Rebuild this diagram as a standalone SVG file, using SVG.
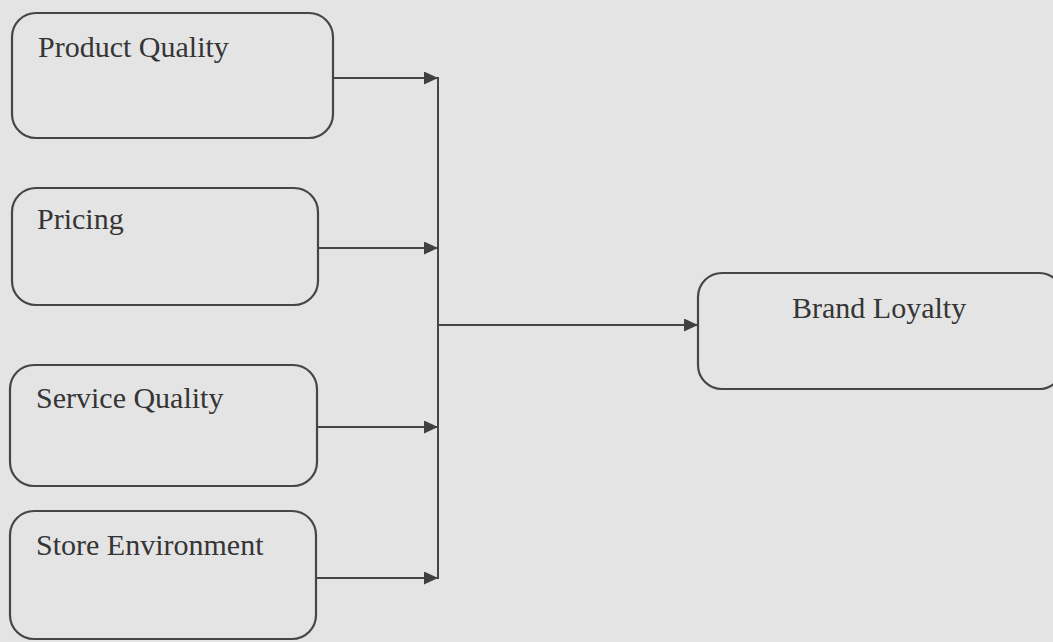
<svg xmlns="http://www.w3.org/2000/svg" width="1053" height="642" viewBox="0 0 1053 642">
<style>
.box{fill:none;stroke:#464646;stroke-width:2.2}
.lbl{font-family:"Liberation Serif","Times New Roman",serif;font-size:30px;fill:#353535}
.con{fill:none;stroke:#464646;stroke-width:2}
</style>
<defs>
<marker id="arr" markerWidth="15" markerHeight="13" refX="14" refY="6.5" orient="auto" markerUnits="userSpaceOnUse">
<path d="M0,0 L14,6.5 L0,13 Z" fill="#404040"/>
</marker>
</defs>
<rect width="1053" height="642" fill="#e4e4e4"/>
<g id="node-product-quality">
<rect class="box" x="12" y="13" width="321" height="125" rx="24"/>
<text class="lbl" x="38" y="57">Product Quality</text>
</g>
<g id="node-pricing">
<rect class="box" x="12" y="188" width="306" height="117" rx="24"/>
<text class="lbl" x="37" y="229">Pricing</text>
</g>
<g id="node-service-quality">
<rect class="box" x="10" y="365" width="307" height="121" rx="24"/>
<text class="lbl" x="36" y="408">Service Quality</text>
</g>
<g id="node-store-environment">
<rect class="box" x="10" y="511" width="306" height="128" rx="24"/>
<text class="lbl" x="36" y="555">Store Environment</text>
</g>
<g id="node-brand-loyalty">
<rect class="box" x="698" y="273" width="365" height="116" rx="24"/>
<text class="lbl" x="792" y="318">Brand Loyalty</text>
</g>
<g id="connectors">
<line class="con" x1="333" y1="78" x2="438" y2="78" marker-end="url(#arr)"/>
<line class="con" x1="318" y1="248" x2="438" y2="248" marker-end="url(#arr)"/>
<line class="con" x1="317" y1="427" x2="438" y2="427" marker-end="url(#arr)"/>
<line class="con" x1="316" y1="578" x2="438" y2="578" marker-end="url(#arr)"/>
<line class="con" x1="438" y1="77" x2="438" y2="579"/>
<line class="con" x1="438" y1="325" x2="698" y2="325" marker-end="url(#arr)"/>
</g>
</svg>
